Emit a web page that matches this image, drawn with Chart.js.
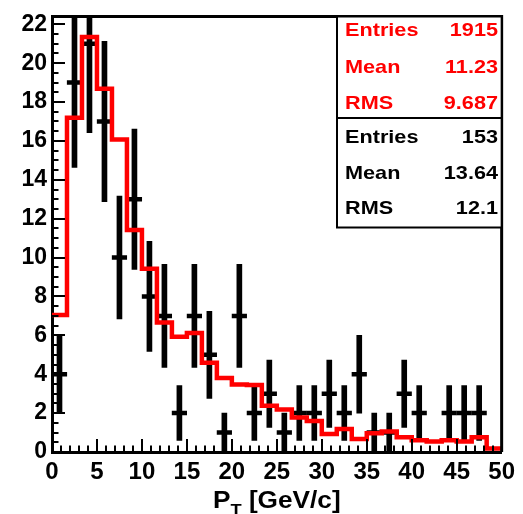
<!DOCTYPE html>
<html><head><meta charset="utf-8">
<script src="https://cdn.jsdelivr.net/npm/chart.js@4.4.1/dist/chart.umd.min.js"></script>
<style>html,body{margin:0;padding:0;background:#fff;} canvas{display:block;}</style>
</head><body>
<canvas id="c" width="523" height="514"></canvas>
<script>
// ---- data ----
const binEdges = [0, 1.667, 3.333, 5, 6.667, 8.333, 10, 11.667, 13.333, 15, 16.667, 18.333, 20, 21.667, 23.333, 25,
                  26.667, 28.333, 30, 31.667, 33.333, 35, 36.667, 38.333, 40, 41.667, 43.333, 45, 46.667, 48.333, 50];
const mcValues = [7.05, 17.19, 21.34, 18.69, 16.07, 11.42, 9.43, 6.66, 5.93, 6.12, 4.59, 3.81, 3.47, 3.45, 2.38,
                  2.18, 1.78, 1.60, 0.92, 1.18, 0.67, 0.96, 1.05, 0.76, 0.60, 0.54, 0.60, 0.54, 0.76, 0.18];
const dataCounts = [4, 19, 21, 17, 10, 13, 8, 7, 2, 7, 5, 1, 7, 2, 3, 1, 2, 2, 3, 2, 4, 1, 1, 3, 2, 0, 2, 2, 2, 0];
const dataErrors = [2, 4.36, 4.58, 4.12, 3.16, 3.61, 2.83, 2.65, 1.41, 2.65, 2.24, 1, 2.65, 1.41, 1.73, 1, 1.41, 1.41,
                    1.73, 1.41, 2, 1, 1, 1.73, 1.41, 0, 1.41, 1.41, 1.41, 0];
const xTickValues = [0, 5, 10, 15, 20, 25, 30, 35, 40, 45, 50];
const yTickValues = [0, 2, 4, 6, 8, 10, 12, 14, 16, 18, 20, 22];
const statsMC = [["Entries", "1915"], ["Mean", "11.23"], ["RMS", "9.687"]];
const statsData = [["Entries", "153"], ["Mean", "13.64"], ["RMS", "12.1"]];
const xTitleMain = "P", xTitleSub = "T", xTitleUnit = " [GeV/c]";

// ---- derived structures ----
const centers = binEdges.slice(0, -1).map((e, i) => (e + binEdges[i + 1]) / 2);
const redPts = [{x: binEdges[0], y: mcValues[0]}]
  .concat(centers.map((c, i) => ({x: c, y: mcValues[i]})))
  .concat([{x: binEdges[binEdges.length - 1], y: mcValues[mcValues.length - 1]}]);
const errBars = [], markers = [];
dataCounts.forEach((n, i) => {
  if (n > 0) {
    errBars.push({x: centers[i], y: [n - dataErrors[i], n + dataErrors[i]]});
    markers.push({x: centers[i], y: n});
  }
});

const FONT = "'Liberation Sans', Arial, Helvetica, sans-serif";

const framePlugin = {
  id: 'rootFrame',
  afterDatasetsDraw(chart) {
    const ctx = chart.ctx, a = chart.chartArea;
    const xs = chart.scales.x, ys = chart.scales.y;
    ctx.save();
    ctx.strokeStyle = '#000';
    // inward ticks
    ctx.lineWidth = 2;
    for (let v = 0; v <= 50.001; v += 1) {
      const px = Math.round(xs.getPixelForValue(v));
      const len = (Math.round(v) % 5 === 0) ? 13 : 6.5;
      ctx.beginPath(); ctx.moveTo(px, a.bottom); ctx.lineTo(px, a.bottom - len); ctx.stroke();
    }
    for (let k = 0; k <= 44; k++) {
      const v = k * 0.5;
      const py = Math.round(ys.getPixelForValue(v));
      const len = (k % 4 === 0) ? 13 : 6.5;
      ctx.beginPath(); ctx.moveTo(a.left, py); ctx.lineTo(a.left + len, py); ctx.stroke();
    }
    // top and right frame
    ctx.lineWidth = 3;
    ctx.beginPath();
    ctx.moveTo(a.left, a.top); ctx.lineTo(a.right, a.top); ctx.lineTo(a.right, a.bottom);
    ctx.stroke();
    ctx.restore();
  },
  afterDraw(chart) {
    const ctx = chart.ctx, a = chart.chartArea;
    const sx = 1.14;
    const txt = (t, x, y, align) => {
      ctx.save(); ctx.translate(x, y); ctx.scale(sx, 1); ctx.textAlign = align; ctx.fillText(t, 0, 0); ctx.restore();
    };
    ctx.save();
    // stats box
    const bl = 337, bt = a.top, br = a.right, bb = 227.5, div = 118;
    ctx.fillStyle = '#fff';
    ctx.fillRect(bl, bt, br - bl, bb - bt);
    ctx.strokeStyle = '#000'; ctx.lineWidth = 2;
    ctx.strokeRect(bl, bt, br - bl, bb - bt);
    ctx.beginPath(); ctx.moveTo(bl, div); ctx.lineTo(br, div); ctx.stroke();
    ctx.font = 'bold 19px ' + FONT;
    ctx.textBaseline = 'alphabetic';
    const ys1 = [36, 72.5, 108.5], ys2 = [142.5, 178.5, 214];
    ctx.fillStyle = '#ff0000';
    statsMC.forEach((r, i) => { txt(r[0], 345, ys1[i], 'left'); txt(r[1], 498, ys1[i], 'right'); });
    ctx.fillStyle = '#000';
    statsData.forEach((r, i) => { txt(r[0], 345, ys2[i], 'left'); txt(r[1], 498, ys2[i], 'right'); });
    // x-axis title with subscript
    const big = 'bold 23px ' + FONT, small = 'bold 16px ' + FONT;
    ctx.font = big; const wP = ctx.measureText(xTitleMain).width * sx; const wU = ctx.measureText(xTitleUnit).width * sx;
    ctx.font = small; const wT = ctx.measureText(xTitleSub).width * sx;
    const total = wP + wT + wU;
    let x0 = (a.left + a.right) / 2 - total / 2;
    const base = 508;
    ctx.fillStyle = '#000';
    ctx.font = big; txt(xTitleMain, x0, base, 'left');
    ctx.font = small; txt(xTitleSub, x0 + wP, base + 8, 'left');
    ctx.font = big; txt(xTitleUnit, x0 + wP + wT, base, 'left');
    ctx.restore();
  }
};

new Chart(document.getElementById('c').getContext('2d'), {
  type: 'bar',
  data: {
    datasets: [
      {type: 'line', data: redPts, borderColor: '#ff0000', borderWidth: 4.5, stepped: 'middle', pointRadius: 0,
       fill: false, tension: 0, borderJoinStyle: 'miter', borderCapStyle: 'butt', order: 0},
      {type: 'bar', data: errBars, backgroundColor: '#000', borderWidth: 0, barThickness: 5, grouped: false, order: 1},
      {type: 'line', data: markers, showLine: false, pointStyle: 'line', pointRadius: 7.6, pointHoverRadius: 7.6,
       pointBorderWidth: 4.5, pointBorderColor: '#000', pointBackgroundColor: '#000', order: 2}
    ]
  },
  options: {
    responsive: false, animation: false, devicePixelRatio: 1,
    layout: {padding: {top: 12.5, right: 15, left: 0, bottom: 0}},
    plugins: {legend: {display: false}, tooltip: {enabled: false}},
    scales: {
      x: {
        type: 'linear', min: 0, max: 50, offset: false,
        grid: {display: false, drawTicks: false},
        border: {display: true, width: 3, color: '#000'},
        ticks: {color: '#000', padding: 8, maxRotation: 0, autoSkip: false,
                font: {family: FONT, weight: 'bold', size: 24, lineHeight: 1}},
        afterBuildTicks: s => { s.ticks = xTickValues.map(v => ({value: v})); },
        afterFit: s => { s.height = 62; }
      },
      y: {
        type: 'linear', min: 0, max: 22.4,
        grid: {display: false, drawTicks: false},
        border: {display: true, width: 3, color: '#000'},
        ticks: {color: '#000', padding: 5, autoSkip: false, includeBounds: false,
                font: {family: FONT, weight: 'bold', size: 23, lineHeight: 1}},
        afterBuildTicks: s => { s.ticks = yTickValues.map(v => ({value: v})); },
        afterFit: s => { s.width = 52; }
      }
    }
  },
  plugins: [framePlugin]
});
</script>
</body></html>
